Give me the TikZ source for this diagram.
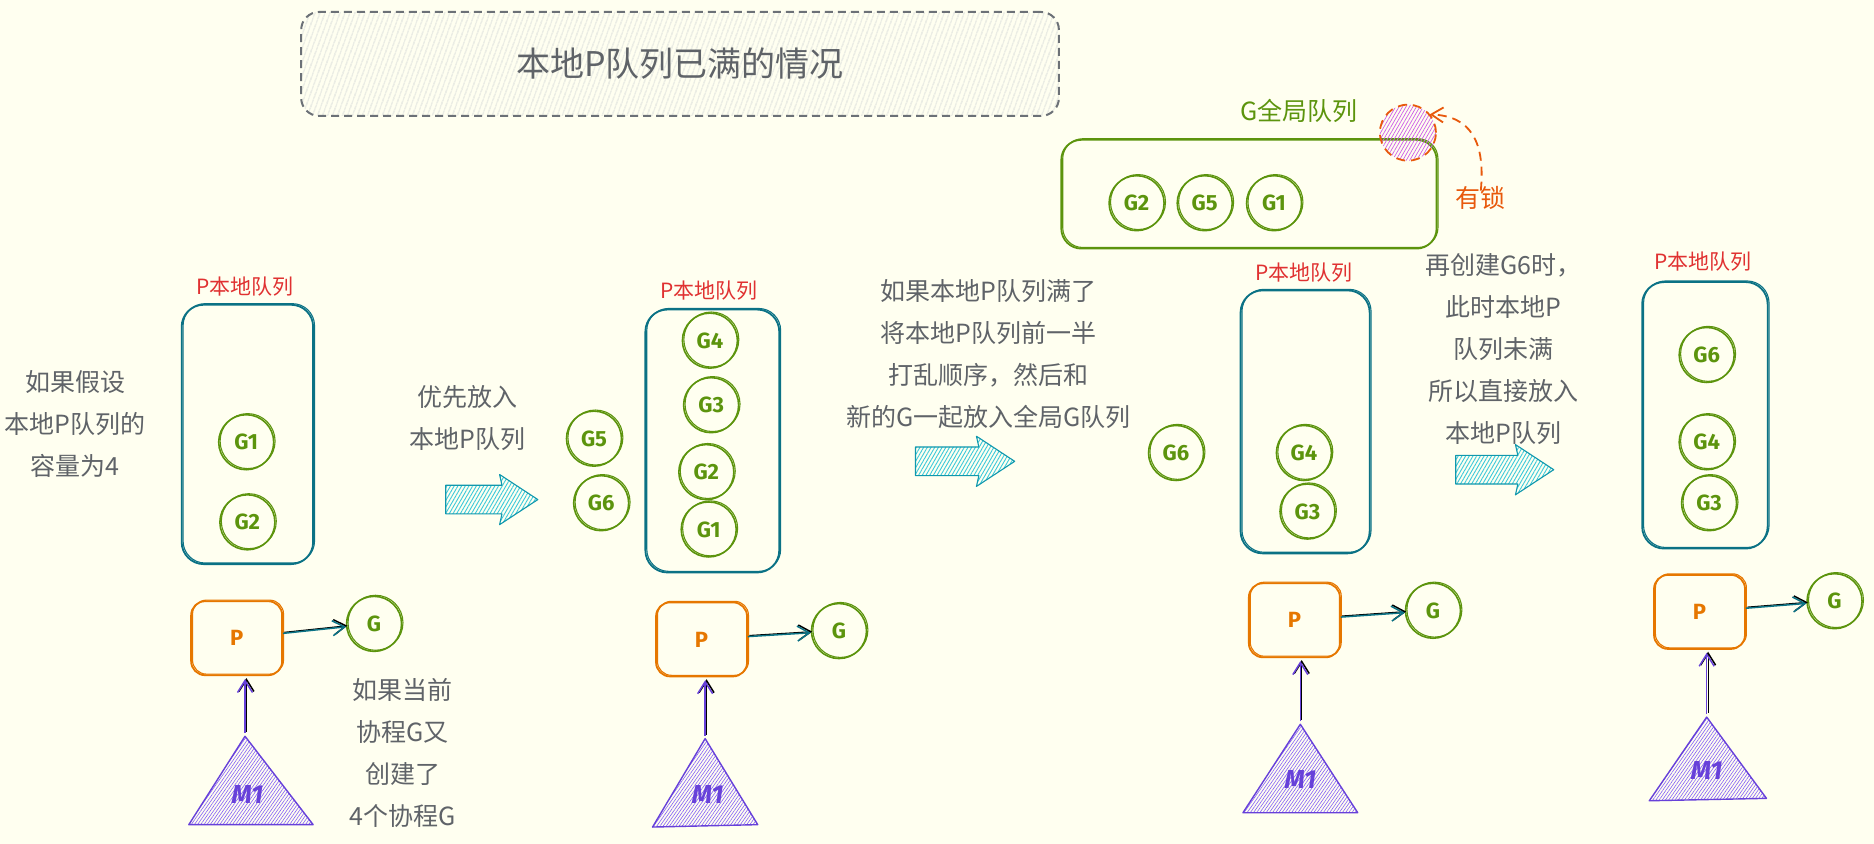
\documentclass[tikz,border=0pt]{standalone}
\usepackage{fontspec}
\setmainfont{Noto Sans CJK SC}
\newfontfamily\latf{Fira Sans}
\usetikzlibrary{arrows.meta,patterns.meta,fit,calc}
\definecolor{bgc}{HTML}{FFFFF0}
\definecolor{txtc}{HTML}{5F6368}
\definecolor{tealq}{HTML}{0B7285}
\definecolor{grn}{HTML}{5C940D}
\definecolor{org}{HTML}{E67700}
\definecolor{redl}{HTML}{E03131}
\definecolor{lockc}{HTML}{E8590C}
\definecolor{lockp}{HTML}{CC5DE8}
\definecolor{purp}{HTML}{6741D9}
\definecolor{purpl}{HTML}{845EF7}
\definecolor{cyanl}{HTML}{3BC9DB}
\definecolor{cyand}{HTML}{1098AD}
\definecolor{titleg}{HTML}{6C7177}
\definecolor{hatchg}{HTML}{C8CCD0}
\begin{document}
\begin{tikzpicture}[x=1.195pt,y=-1.195pt,
 rough/.style={preaction={draw, line width=1.1pt, transform canvas={shift={(1.4pt,1.1pt)}}}},
 note/.style={text=txtc, font=\fontsize{25}{42}\selectfont, align=center, inner sep=0pt},
 gc/.style={circle, draw=grn, line width=1.6pt, minimum size=55pt, inner sep=0pt, text=grn, font=\latf\bfseries\fontsize{22}{22}\selectfont, rough},
 qbox/.style={draw=tealq, line width=1.8pt, rounded corners=22pt, inner sep=0pt, rough},
 pbox/.style={draw=org, line width=1.8pt, rounded corners=14pt, minimum width=91pt, minimum height=74pt, inner sep=0pt, text=org, font=\latf\bfseries\fontsize{22}{22}\selectfont, rough},
 lbl/.style={text=redl, font=\fontsize{21}{21}\selectfont, inner sep=0pt},
 conn/.style={line width=1.5pt, -{Straight Barb[length=12pt,width=15pt,line width=1.5pt]}, rough},
 tri/.style={draw=purp, line width=1.4pt, pattern={Lines[angle=55,distance=2.6pt,line width=0.6pt]}, pattern color=purpl, line join=round},
 mlab/.style={text=purp, font=\latf\bfseries\itshape\fontsize{26}{26}\selectfont},
 harrow/.pic={\draw[cyand, line width=1.1pt, line join=round, pattern={Lines[angle=60,distance=3.2pt,line width=0.9pt]}, pattern color=cyanl]
   (0,-12) -- (#1-30,-12) -- (#1-32,-21) -- (#1,0) -- (#1-32,21) -- (#1-30,12) -- (0,12) -- cycle;}
]
\fill[bgc] (0,0) rectangle (1568,706);
\useasboundingbox (0,0) rectangle (1568,706);

% title
\node[draw=titleg, dash pattern=on 8pt off 5pt, line width=2pt, rounded corners=18pt,
  pattern={Lines[angle=70,distance=4pt,line width=0.8pt]}, pattern color=hatchg,
  fit={(252,10)(886,97)}, inner sep=0pt] (tbox) {};
\node[text=txtc, font=\fontsize{34}{34}\selectfont] (title) at (tbox.center) {本地P队列已满的情况};

% ---------- column 1
\node[note] (t1) at (63,355) {如果假设\\本地P队列的\\容量为4};
\node[lbl] (l1) at (205,240) {P本地队列};
\node[qbox, fit={(152,255)(262,472)}] (q1) {};
\node[gc] (c1a) at (206,370) {G1};
\node[gc] (c1b) at (207,437) {G2};
\node[pbox] (p1) at (198,534) {P};
\node[gc] (s1) at (313,522) {G};
\draw[conn, tealq] (p1) -- (s1);
\coordinate (a1) at (205,616);
\draw[tri] (a1) -- (158,690) -- (262,690) -- cycle;
\node[mlab] (m1) at (207,665) {M1};
\draw[conn, purp, shorten <=3pt, shorten >=3pt] (a1) -- (a1 |- p1.south);
\node[note] (t2) at (337,630) {如果当前\\协程G又\\创建了\\4个协程G};

% arrow 1
\node[note] (t3) at (391,350) {优先放入\\本地P队列};
\pic at (373,418) {harrow=77};

% ---------- column 2
\node[gc] (c2e) at (497,367) {G5};
\node[gc] (c2f) at (503,421) {G6};
\node[lbl] (l2) at (593,243) {P本地队列};
\node[qbox, fit={(540,259)(652,479)}] (q2) {};
\node[gc] (c2d) at (594,285) {G4};
\node[gc] (c2c) at (595,339) {G3};
\node[gc] (c2b) at (591,395) {G2};
\node[gc] (c2a) at (593,443) {G1};
\node[pbox] (p2) at (587,535) {P};
\node[gc] (s2) at (702,528) {G};
\draw[conn, tealq] (p2) -- (s2);
\coordinate (a2) at (590,618);
\draw[tri] (a2) -- (546,692) -- (634,690) -- cycle;
\node[mlab] (m2) at (592,665) {M1};
\draw[conn, purp, shorten <=3pt, shorten >=3pt] (a2) -- (a2 |- p2.south);

% middle text + arrow 2
\node[note] (t4) at (827,296) {如果本地P队列满了\\将本地P队列前一半\\打乱顺序，然后和\\新的G一起放入全局G队列};
\pic at (766,386) {harrow=83};

% ---------- global queue
\node[text=grn, font=\fontsize{25}{25}\selectfont, inner sep=0pt] (gl) at (1087,93) {G全局队列};
\node[draw=grn, line width=1.8pt, rounded corners=20pt, inner sep=0pt, fit={(888,117)(1202,208)}, rough] (gq) {};
\node[gc] (g2) at (951,170) {G2};
\node[gc] (g5) at (1008,170) {G5};
\node[gc] (g1) at (1066,170) {G1};
\node[circle, draw=lockc, dash pattern=on 9pt off 6pt, line width=1.8pt, minimum size=56pt, inner sep=0pt,
  pattern={Lines[angle=60,distance=3pt,line width=0.7pt]}, pattern color=lockp] (lock) at (1178,111) {};
\node[text=lockc, font=\fontsize{25}{25}\selectfont, inner sep=0pt] (lk) at (1239,166) {有锁};
\draw[lockc, dash pattern=on 9pt off 6pt, line width=1.8pt, -{Straight Barb[length=12pt,width=15pt,line width=1.8pt]}]
  ([yshift=-4pt]lk.north) .. controls (1243,118) and (1230,97) .. (lock.40);

% ---------- column 3
\node[gc] (c3f) at (984,379) {G6};
\node[lbl] (l3) at (1091,228) {P本地队列};
\node[qbox, fit={(1038,243)(1146,463)}] (q3) {};
\node[gc] (c3d) at (1091,379) {G4};
\node[gc] (c3c) at (1094,428) {G3};
\node[pbox] (p3) at (1083,519) {P};
\node[gc] (s3) at (1199,511) {G};
\draw[conn, tealq] (p3) -- (s3);
\coordinate (a3) at (1088,606);
\draw[tri] (a3) -- (1040,680) -- (1136,680) -- cycle;
\node[mlab] (m3) at (1088,652) {M1};
\draw[conn, purp, shorten <=3pt, shorten >=3pt] (a3) -- (a3 |- p3.south);

% text + arrow 3
\node[note] (t5) at (1258,292) {再创建G6时，\\此时本地P\\队列未满\\所以直接放入\\本地P队列};
\pic at (1218,393) {harrow=82};

% ---------- column 4
\node[lbl] (l4) at (1425,219) {P本地队列};
\node[qbox, fit={(1374,236)(1479,459)}] (q4) {};
\node[gc] (c4f) at (1428,297) {G6};
\node[gc] (c4d) at (1428,370) {G4};
\node[gc] (c4c) at (1430,421) {G3};
\node[pbox] (p4) at (1422,512) {P};
\node[gc] (s4) at (1535,503) {G};
\draw[conn, tealq] (p4) -- (s4);
\coordinate (a4) at (1428,600);
\draw[tri] (a4) -- (1380,670) -- (1478,668) -- cycle;
\node[mlab] (m4) at (1428,645) {M1};
\draw[conn, purp, shorten <=3pt, shorten >=3pt] (a4) -- (a4 |- p4.south);
\end{tikzpicture}
\end{document}
